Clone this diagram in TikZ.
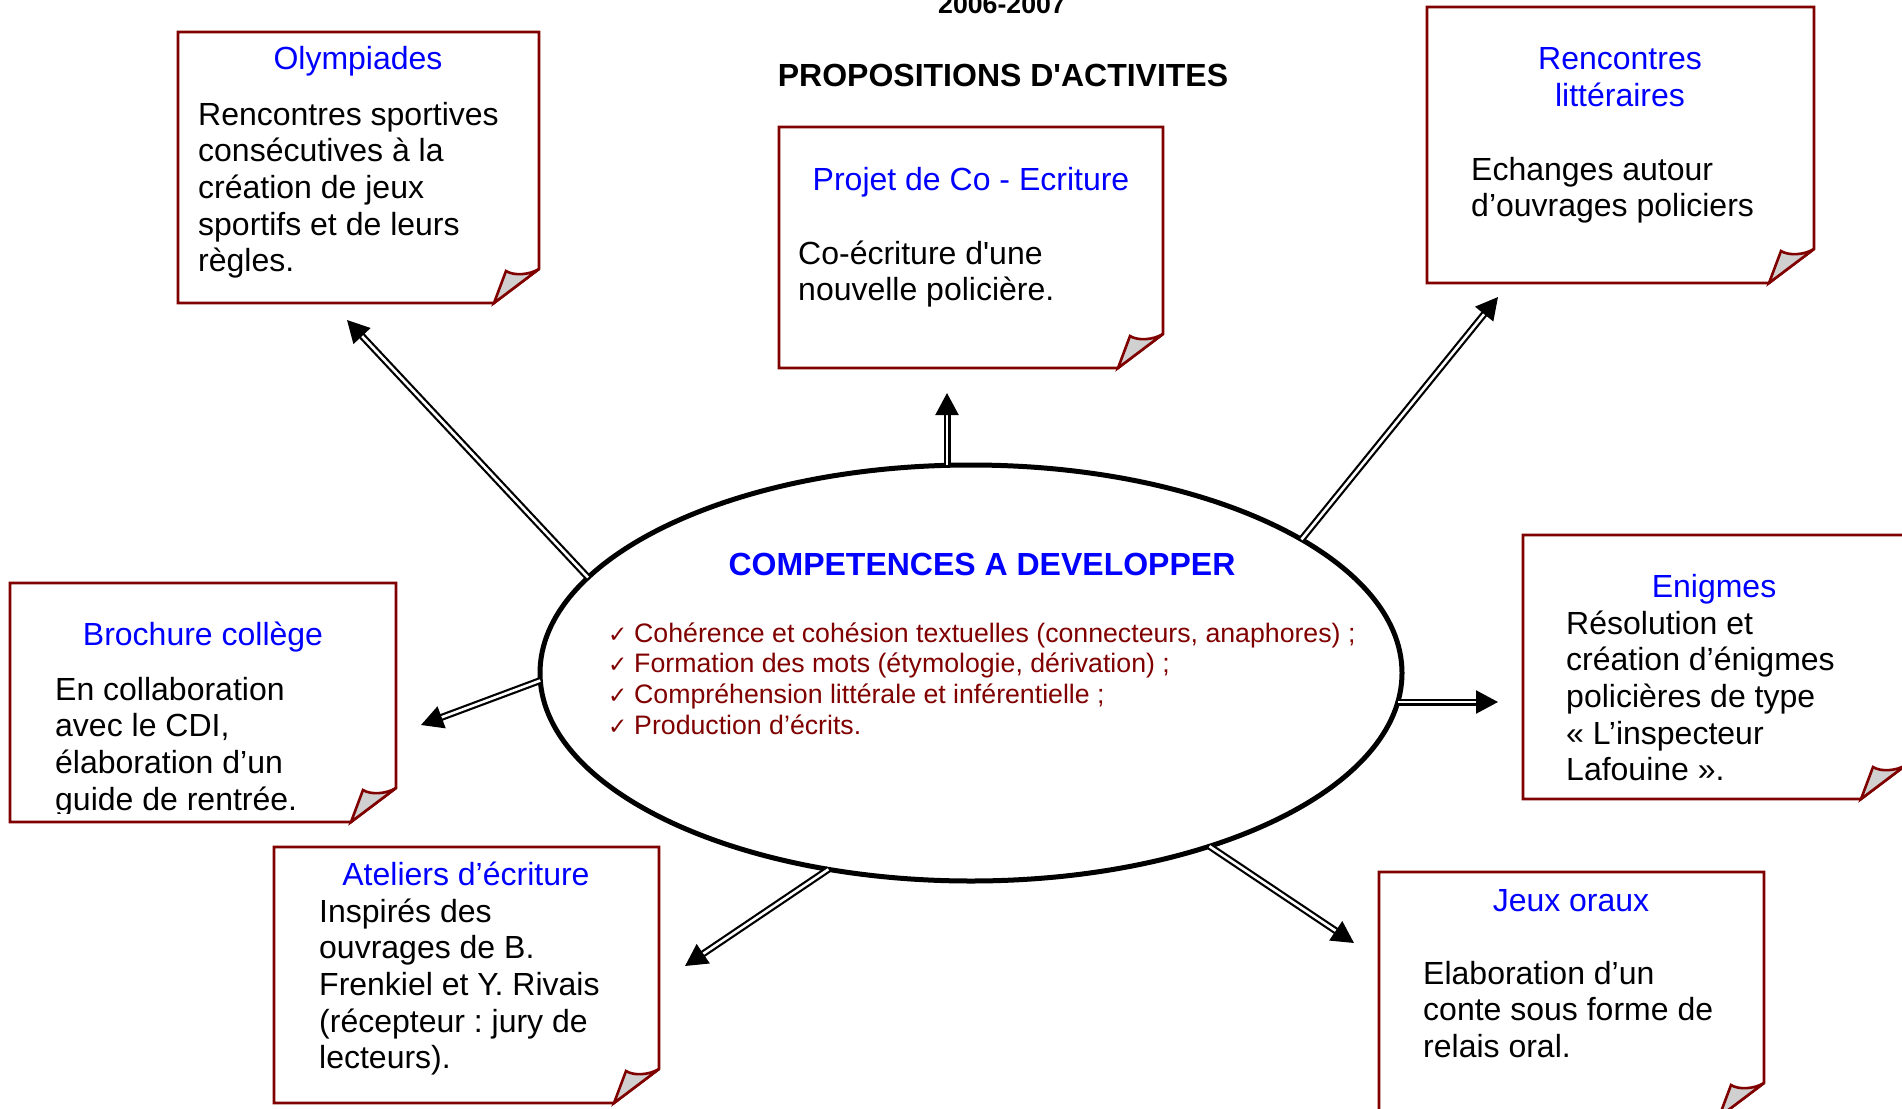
\documentclass[tikz,border=0pt]{standalone}
\usepackage{fontspec}
\setmainfont{Liberation Sans}[Ligatures=TeXOff]
\newfontfamily\symfont{DejaVu Sans}
\usetikzlibrary{shapes.geometric,arrows.meta}
\definecolor{boxred}{RGB}{128,0,0}
\definecolor{ttlblue}{RGB}{0,0,255}
\definecolor{foldgray}{RGB}{208,208,208}
\frenchspacing
\newcommand{\bodyfont}{\fontsize{32}{36.7}\selectfont}
\newcommand{\smallfont}{\fontsize{26.7}{30.7}\selectfont}
\newcommand{\bodylines}[1]{\parbox[t]{520pt}{\bodyfont\raggedright #1}}
\newcommand{\chk}{\makebox[26pt][l]{{\symfont\fontsize{23}{23}\selectfont ✓}}}
\newcommand{\notebox}[4]{%
  \draw[boxline, fill=white] (#1,#2) -- (#3,#2) -- (#3,#4-34) -- (#3-45,#4) -- (#1,#4) -- cycle;
  \draw[boxline, fill=foldgray] (#3-45,#4) -- (#3-33,#4-32) .. controls (#3-25,#4-27) and (#3-10,#4-28) .. (#3,#4-34) -- cycle;
}
\tikzset{
  boxline/.style={draw=boxred, line width=2.6pt, line join=miter},
  ttl/.style={anchor=base, inner sep=0, text=ttlblue, font=\bodyfont},
  body/.style={anchor=base west, inner sep=0, text=black},
  dblarrow/.style={draw=black, double=white, double distance=2.6pt, line width=2.2pt,
    -{Triangle[length=22pt,width=23pt]}},
}
\begin{document}
\begin{tikzpicture}[x=1pt, y=-1pt]
\clip (0,0) rectangle (1902,1108);
\fill[white] (0,0) rectangle (1902,1108);

% headings
\node[anchor=base, inner sep=0] (year) at (1002,14) {\fontsize{26.7}{30}\selectfont\bfseries 2006-2007};
\node[anchor=base, inner sep=0] (title) at (1003,86) {\bodyfont\bfseries PROPOSITIONS D'ACTIVITES};

% Olympiades
\notebox{178}{32}{539}{303}
\node[ttl] (olyT) at (358,70) {Olympiades};
\node[body] (olyB) at (198,125) {\bodylines{Rencontres sportives\\consécutives à la\\création de jeux\\sportifs et de leurs\\règles.}};

% Projet de Co-Ecriture
\notebox{779}{127}{1163}{368}
\node[ttl] (proT) at (971,190) {Projet de Co - Ecriture};
\node[body] (proB) at (798,264) {\bodylines{Co-écriture d'une\\nouvelle policière.}};

% Rencontres litteraires
\notebox{1427}{7}{1814}{283}
\node[ttl] (renT) at (1620,70) {\parbox[t]{340pt}{\centering\bodyfont Rencontres\\littéraires}};
\node[body] (renB) at (1471,180) {\bodylines{Echanges autour\\d’ouvrages policiers}};

% Brochure college
\notebox{10}{583}{396}{822}
\node[ttl] (broT) at (203,645) {Brochure collège};
\begin{scope}
\clip (10,583) rectangle (396,813);
\node[body] (broB) at (55,700) {\bodylines{En collaboration\\avec le CDI,\\élaboration d’un\\guide de rentrée.}};
\end{scope}

% Enigmes
\notebox{1523}{535}{1906}{799}
\node[ttl] (eniT) at (1714,597) {Enigmes};
\node[body] (eniB) at (1566,634) {\bodylines{Résolution et\\création d’énigmes\\policières de type\\« L’inspecteur\\Lafouine ».}};

% Ateliers d'ecriture
\notebox{274}{847}{659}{1103}
\node[ttl] (ateT) at (466,885) {Ateliers d’écriture};
\node[body] (ateB) at (319,922) {\bodylines{Inspirés des\\ouvrages de B.\\Frenkiel et Y. Rivais\\(récepteur : jury de\\lecteurs).}};

% Jeux oraux
\notebox{1379}{872}{1764}{1117}
\node[ttl] (jeuT) at (1571,911) {Jeux oraux};
\node[body] (jeuB) at (1423,984) {\bodylines{Elaboration d’un\\conte sous forme de\\relais oral.}};

% central ellipse
\node[ellipse, draw=black, fill=white, line width=5pt, minimum width=862pt, minimum height=416pt,
      inner sep=0, outer sep=0] (ell) at (971,673) {};
\node[anchor=base, inner sep=0, text=ttlblue] (compT) at (982,575) {\bodyfont\bfseries COMPETENCES A DEVELOPPER};
\node[body, text=boxred] (skills) at (608,642) {\parbox[t]{900pt}{\smallfont\raggedright
\chk Cohérence et cohésion textuelles (connecteurs, anaphores) ;\\
\chk Formation des mots (étymologie, dérivation) ;\\
\chk Compréhension littérale et inférentielle ;\\
\chk Production d’écrits.}};

% arrow tips
\coordinate (tUL) at (347,320);
\coordinate (tUp) at (947,393);
\coordinate (tUR) at (1498,297);
\coordinate (tL) at (421,725);
\coordinate (tR) at (1498,702);
\coordinate (tLL) at (685,966);
\coordinate (tLR) at (1354,943);

\draw[dblarrow] (ell.166.2) -- (tUL);
\draw[dblarrow] (tUp |- ell.north) -- (tUp);
\draw[dblarrow] (ell.22.4) -- (tUR);
\draw[dblarrow] (ell.181) -- (tL);
\draw[dblarrow] ([xshift=-4pt]ell.east |- tR) -- (tR);
\draw[dblarrow] (ell.234.1) -- (tLL);
\draw[dblarrow] (ell.-36) -- (tLR);
\end{tikzpicture}
\end{document}
